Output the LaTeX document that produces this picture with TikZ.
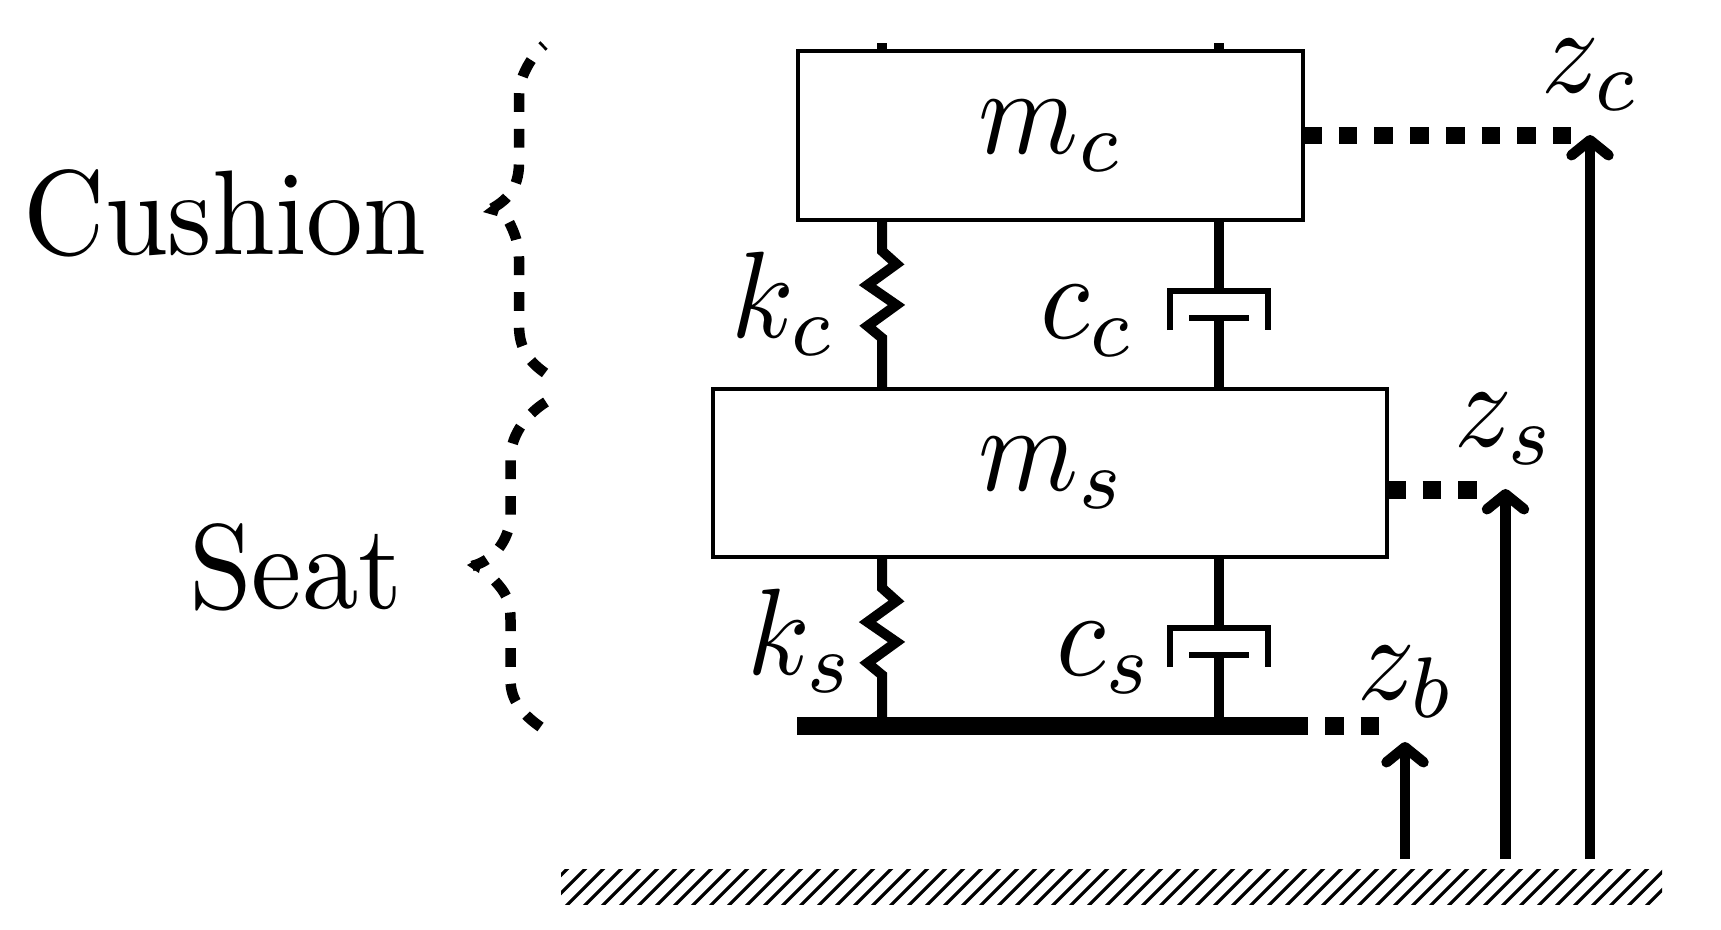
\documentclass[tikz,border=0pt]{standalone}
\usetikzlibrary{arrows.meta}
\tikzset{
  lab/.style={xscale=11.4,yscale=12.3,inner sep=0pt,outer sep=0pt,anchor=base west},
  wordlab/.style={xscale=11.3,yscale=12.05,inner sep=0pt,outer sep=0pt,anchor=base west},
  massbox/.style={draw,line width=4pt,inner sep=0pt,outer sep=0pt},
  stem/.style={line width=10pt},
  cup/.style={line width=6pt,miter limit=10},
  piston/.style={line width=6pt},
  tie/.style={line width=17.5pt,dash pattern=on 18.7pt off 17pt},
  rise/.style={line width=10.5pt,-{Straight Barb[length=15pt,width=37pt,round]}},
  bracket/.style={line width=10.5pt,dash pattern=on 18.7pt off 17pt},
}
\begin{document}
\begin{tikzpicture}[x=1pt,y=-1pt]
\useasboundingbox (0,0) rectangle (1721,929);
% masses
\node[massbox,minimum width=505pt,minimum height=169pt] (mc) at (1050.5,135.5) {};
\node[massbox,minimum width=674pt,minimum height=168pt] (ms) at (1050,473) {};
\node[fill=black,inner sep=0pt,outer sep=0pt,minimum width=511pt,minimum height=18pt] (bar) at (1052.5,726) {};
% ground
\node[inner sep=0pt,outer sep=0pt,minimum width=1101pt,minimum height=35pt,path picture={
  \foreach \i in {-1,...,62}{
    \draw[line width=3.2pt] (-566.5+18*\i,22.5) -- (-521.5+18*\i,-22.5);
  }}] (ground) at (1111.5,886.5) {};
% column positions
\coordinate (sx) at (882,0);
\coordinate (dx) at (1219,0);
% top stubs
\coordinate (st1) at (882,43);
\coordinate (st2) at (1219,43);
\draw[stem] (st1) -- (sx |- mc.north);
\draw[stem] (st2) -- (dx |- mc.north);
% cushion spring
\draw[stem,miter limit=10] (sx |- mc.south) -- (882,251) -- (896.5,264) -- (867.5,285) -- (896.5,305) -- (867.5,326) -- (882,338) -- (sx |- ms.north);
% seat spring
\draw[stem,miter limit=10] (sx |- ms.south) -- (882,588) -- (896.5,601) -- (867.5,622) -- (896.5,642) -- (867.5,663) -- (882,675) -- (sx |- bar.north);
% cushion damper
\coordinate (c1t) at (1219,290.5);
\coordinate (c1p) at (1219,318);
\draw[stem] (dx |- mc.south) -- (c1t);
\draw[cup] (1170,330) -- (1170,290.5) -- (1268,290.5) -- (1268,330);
\draw[piston] (1189,318) -- (1249,318);
\draw[stem] (c1p) -- (dx |- ms.north);
% seat damper
\coordinate (c2t) at (1219,627.5);
\coordinate (c2p) at (1219,655);
\draw[stem] (dx |- ms.south) -- (c2t);
\draw[cup] (1170,667) -- (1170,627.5) -- (1268,627.5) -- (1268,667);
\draw[piston] (1189,655) -- (1249,655);
\draw[stem] (c2p) -- (dx |- bar.north);
% dashed ties
\coordinate (tc) at (1571,135.5);
\coordinate (ts0) at (1387,490);
\coordinate (ts) at (1478,490);
\coordinate (tb0) at (1289.3,726);
\coordinate (tb) at (1380,726);
\draw[tie] (mc.east) -- (tc);
\draw[tie] (ts0) -- (ts);
\draw[tie,line width=18pt] (tb0) -- (tb);
% arrows
\coordinate (a1) at (1405,859);
\coordinate (a1t) at (1405,742);
\coordinate (a2) at (1505.5,859);
\coordinate (a2t) at (1505.5,489);
\coordinate (a3) at (1590,859);
\coordinate (a3t) at (1590,135);
\draw[rise] (a1) -- (a1t);
\draw[rise] (a2) -- (a2t);
\draw[rise] (a3) -- (a3t);
% upper brace
\draw[bracket] (545,373) .. controls (530,362) and (519,350) .. (519,325) -- (519,258)
  .. controls (519,245) and (515,233) .. (508,220);
\fill (483,212) -- (503,197) -- (497,216) -- cycle;
\draw[bracket] (492,208.5) .. controls (505,201) and (519,190) .. (519,163) -- (519,95)
  .. controls (519,78) and (530,58) .. (544,45);
% lower brace
\draw[bracket] (546,402) .. controls (530,412) and (510.5,432) .. (510.5,459) -- (510.5,515)
  .. controls (510.5,535) and (497,560) .. (472,566);
\fill (467,565) -- (483,556) -- (479,573) -- cycle;
\draw[bracket] (495,581) .. controls (505,592) and (510.5,600) .. (510.5,620) -- (510.5,680)
  .. controls (510.5,700) and (522,715) .. (545,730);
% labels
\node[wordlab] (lcu) at (23.5,254) {Cushion};
\node[wordlab] (lse) at (189,608) {Seat};
\node[lab] (lmc) at (978.5,153) {$m_c$};
\node[lab] (lms) at (978.5,490) {$m_s$};
\node[lab] (lkc) at (731,337.5) {$k_c$};
\node[lab] (lks) at (747,674.5) {$k_s$};
\node[lab] (lcc) at (1040,338.5) {$c_c$};
\node[lab] (lcs) at (1056,675.5) {$c_s$};
\node[lab] (lzc) at (1541,92.5) {$z_c$};
\node[lab] (lzs) at (1454,446.5) {$z_s$};
\node[lab] (lzb) at (1357,699.5) {$z_b$};
\end{tikzpicture}
\end{document}
